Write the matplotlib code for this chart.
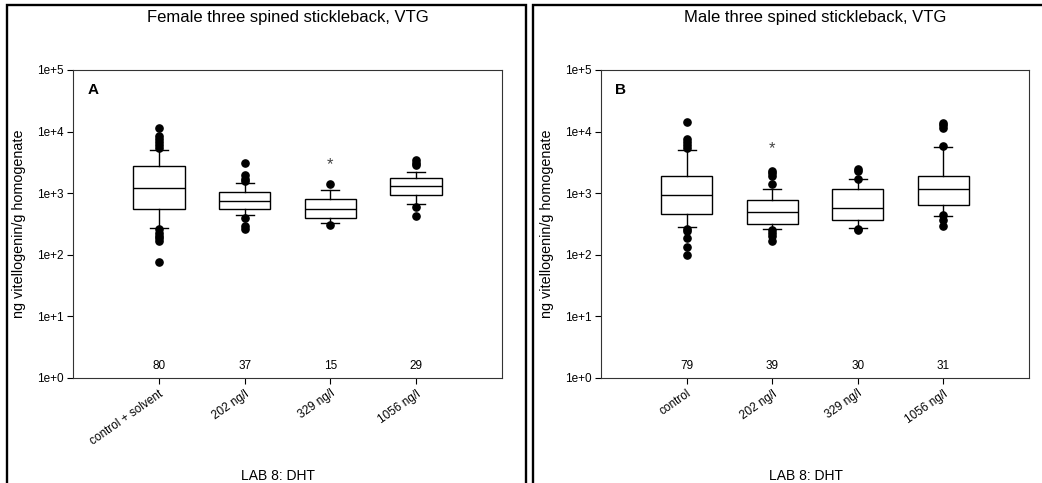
import math
import matplotlib
matplotlib.use("Agg")
import matplotlib.pyplot as plt
from matplotlib.patches import Rectangle
from matplotlib.ticker import FixedLocator, FuncFormatter

plt.rcParams['font.family'] = ['Liberation Sans', 'DejaVu Sans']

# ---------------- data ----------------
labels_f = ["control + solvent", "202 ng/l", "329 ng/l", "1056 ng/l"]
q1_f = [550, 550, 390, 930]
med_f = [1200, 740, 560, 1310]
q3_f = [2760, 1050, 815, 1740]
whislo_f = [270, 440, 324, 660]
whishi_f = [5100, 1480, 1120, 2180]
fliers_f = [
    [11300, 8600, 7600, 6800, 6000, 5400, 260, 230, 205, 185, 165, 75],
    [3050, 1950, 1700, 1550, 390, 290, 260],
    [1420, 303],
    [3500, 3100, 2900, 590, 420],
]
n_f = [80, 37, 15, 29]
star_f = {2: 2870}

labels_m = ["control", "202 ng/l", "329 ng/l", "1056 ng/l"]
q1_m = [465, 320, 370, 645]
med_m = [935, 490, 580, 1150]
q3_m = [1920, 775, 1170, 1880]
whislo_m = [285, 260, 270, 430]
whishi_m = [5040, 1180, 1700, 5690]
fliers_m = [
    [14300, 7600, 6800, 6100, 5400, 265, 240, 185, 135, 99],
    [2300, 2100, 1900, 1400, 250, 230, 200, 165],
    [2500, 2300, 1700, 260, 250],
    [13900, 12800, 11300, 5900, 440, 367, 294],
]
n_m = [79, 39, 30, 31]
star_m = {1: 5360}

yticks = [1, 10, 100, 1000, 10000, 100000]

titles = ["Female three spined stickleback, VTG", "Male three spined stickleback, VTG"]
letters = ["A", "B"]
xlabel = "LAB 8: DHT"
ylabel = "ng vitellogenin/g homogenate"

# ---------------- figure ----------------
W, H = 1042, 483
fig = plt.figure(figsize=(W / 100, H / 100), dpi=100)

# panel frames
for x0 in (6.7, 533.3):
    fig.patches.append(Rectangle((x0 / W, -0.1), 519 / W, 1.1 - 5 / H,
                                 transform=fig.transFigure, fill=False,
                                 edgecolor='black', linewidth=1.7, zorder=0))

ax_f = fig.add_axes([73 / W, 105 / H, 429 / W, 308 / H])
ax_m = fig.add_axes([601 / W, 105 / H, 428 / W, 308 / H])

panels = [
    (ax_f, labels_f, q1_f, med_f, q3_f, whislo_f, whishi_f, fliers_f, n_f, star_f),
    (ax_m, labels_m, q1_m, med_m, q3_m, whislo_m, whishi_m, fliers_m, n_m, star_m),
]

for i, (ax, labels, q1, med, q3, wlo, whi, fl, n, star) in enumerate(panels):
    stats = []
    for j in range(len(labels)):
        stats.append(dict(label=labels[j], q1=q1[j], med=med[j], q3=q3[j],
                          whislo=wlo[j], whishi=whi[j], fliers=fl[j]))
    pos = list(range(1, len(labels) + 1))
    ax.bxp(stats, positions=pos, widths=0.6, capwidths=0.21, patch_artist=True,
           boxprops=dict(facecolor='white', edgecolor='black', linewidth=1.0),
           medianprops=dict(color='black', linewidth=1.0),
           whiskerprops=dict(color='black', linewidth=1.0),
           capprops=dict(color='black', linewidth=1.0),
           flierprops=dict(marker='o', markerfacecolor='black', markeredgecolor='black',
                           markersize=5.2, linestyle='none'))
    ax.set_yscale('log')
    ax.set_ylim(1, 100000)
    ax.set_xlim(0, 5)
    ax.yaxis.set_major_locator(FixedLocator(yticks))
    ax.yaxis.set_minor_locator(FixedLocator([]))
    ax.yaxis.set_major_formatter(FuncFormatter(lambda v, p: "1e+%d" % round(math.log10(v))))
    ax.set_xticks(pos)
    ax.set_xticklabels(labels)
    ax.tick_params(axis='both', which='major', direction='out', length=4, width=0.8,
                   labelsize=8.5, pad=3, top=False, right=False)
    for lab in ax.get_xticklabels():
        lab.set_rotation(35)
        lab.set_ha('right')
        lab.set_rotation_mode('anchor')
    for s in ax.spines.values():
        s.set_linewidth(0.8)
        s.set_color('#333333')

    # counts
    for j in range(len(labels)):
        ax.text(pos[j], 0.04, str(n[j]), transform=ax.get_xaxis_transform(),
                ha='center', va='center', fontsize=8.5)
    # significance markers
    for k, v in star.items():
        ax.text(pos[k], v, "*", ha='center', va='center', fontsize=12, color='#444444')

    ax.text(0.046, 0.935, letters[i], transform=ax.transAxes, ha='center', va='center',
            fontsize=11, fontweight='bold')
    ax.text(0.5, 1.171, titles[i], transform=ax.transAxes, ha='center', va='center',
            fontsize=12)
    ax.text(0.478, -0.317, xlabel, transform=ax.transAxes, ha='center', va='center',
            fontsize=10)
    ax.set_ylabel(ylabel, fontsize=10.4)
    ax.yaxis.label.set_va('center')
    ax.yaxis.set_label_coords(-(73 - 19) / 429, 0.5)

fig.savefig("out.png", dpi=100)
